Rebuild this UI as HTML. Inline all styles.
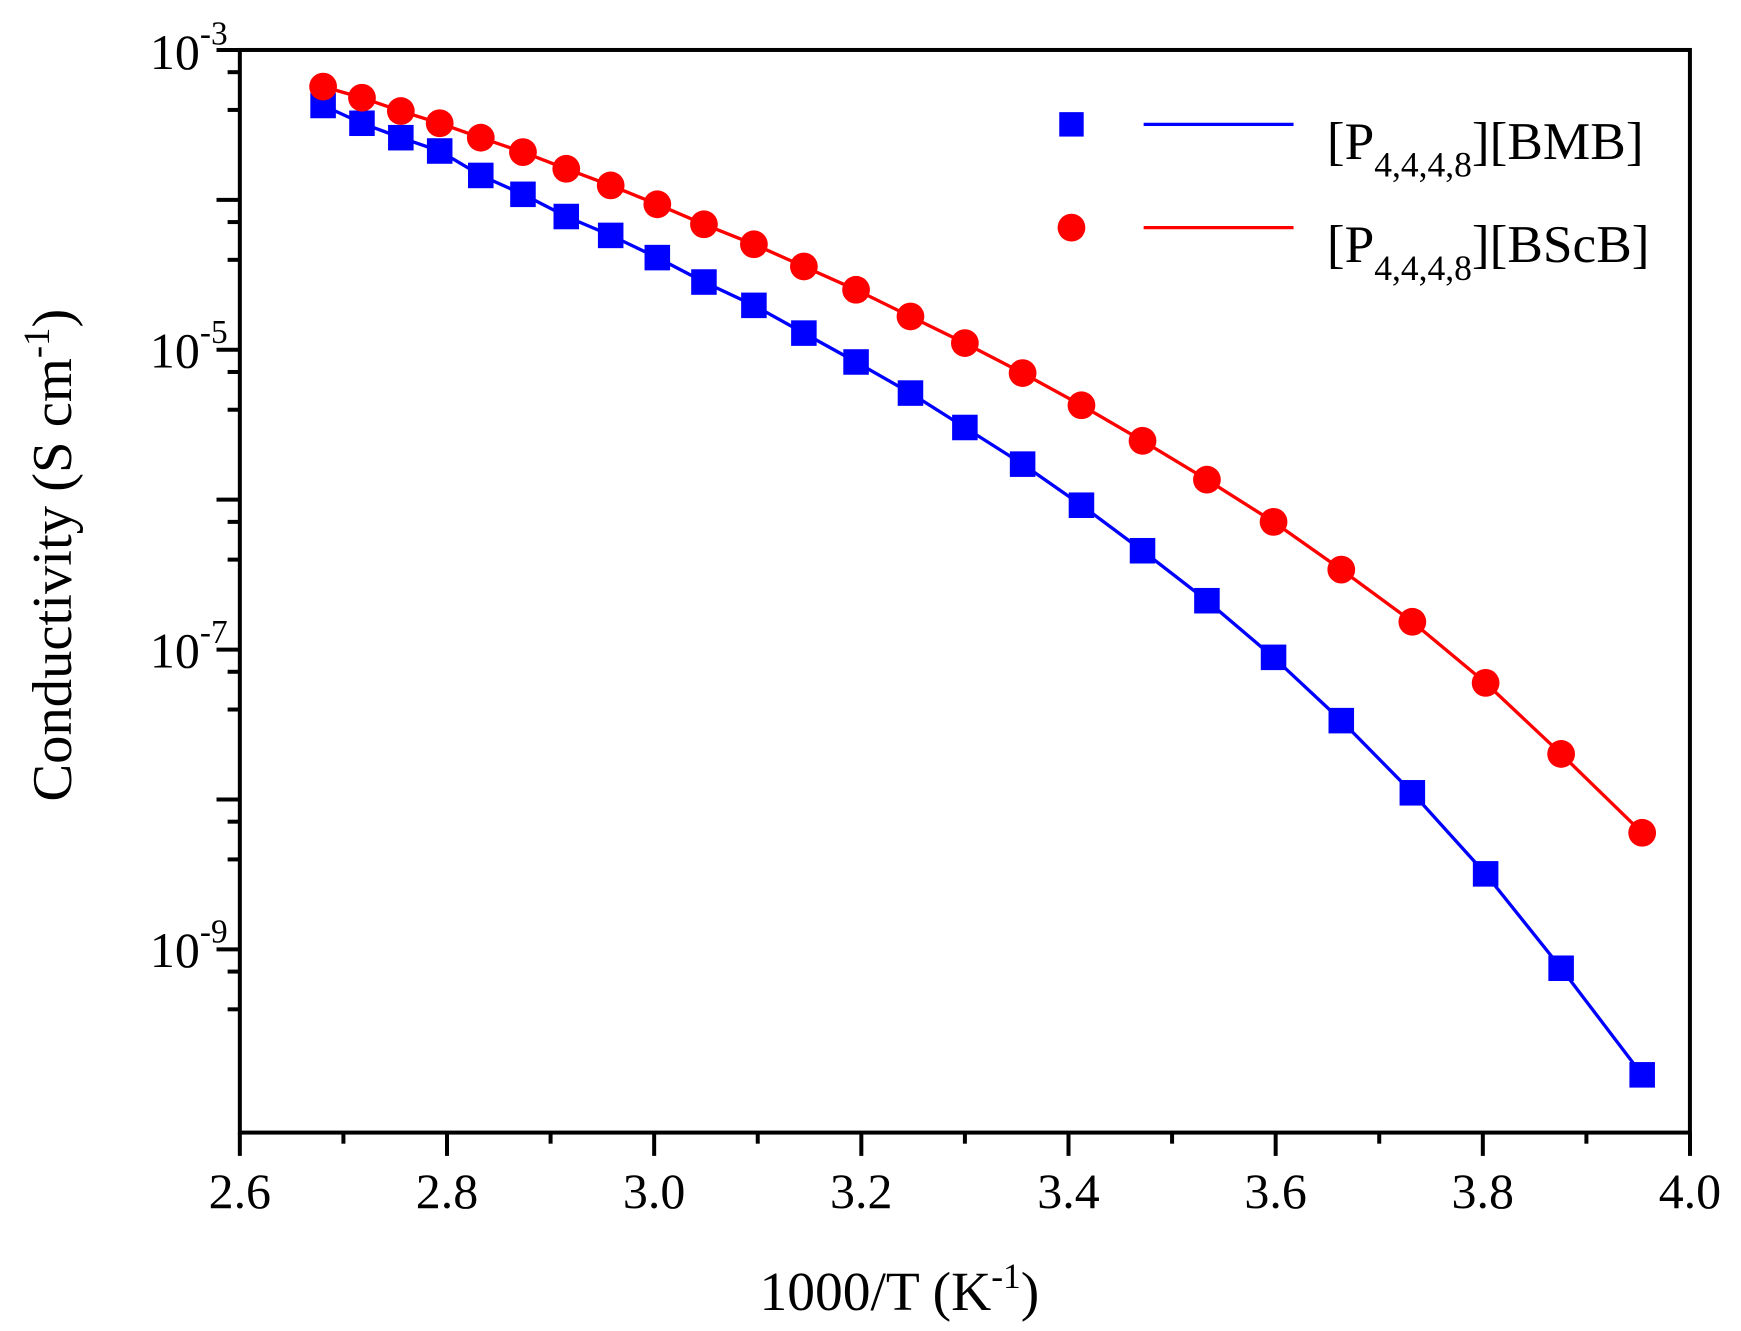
<!DOCTYPE html>
<html><head><meta charset="utf-8"><style>
html,body{margin:0;padding:0;background:#fff;}
svg{display:block;}
text{font-family:"Liberation Serif",serif;fill:#000;}
</style></head><body>
<svg width="1741" height="1331" viewBox="0 0 1568 1198.7" preserveAspectRatio="none" xmlns="http://www.w3.org/2000/svg">
<g id="ticks" stroke="#000" stroke-width="3.6"></g>
<rect x="216" y="45" width="1306" height="975" fill="none" stroke="#000" stroke-width="3.6"/>
<g font-size="45" text-anchor="middle">
<text x="216" y="1088">2.6</text><text x="402.6" y="1088">2.8</text><text x="589.1" y="1088">3.0</text><text x="775.7" y="1088">3.2</text><text x="962.3" y="1088">3.4</text><text x="1148.9" y="1088">3.6</text><text x="1335.4" y="1088">3.8</text><text x="1522" y="1088">4.0</text>
</g>
<g font-size="45" text-anchor="end">
<text x="205" y="62">10<tspan font-size="30" dy="-22">-3</tspan></text>
<text x="205" y="331">10<tspan font-size="30" dy="-22">-5</tspan></text>
<text x="205" y="601">10<tspan font-size="30" dy="-22">-7</tspan></text>
<text x="205" y="871">10<tspan font-size="30" dy="-22">-9</tspan></text>
</g>
<text x="810" y="1180" font-size="50" text-anchor="middle">1000/T (K<tspan font-size="32" dy="-20">-1</tspan><tspan dy="20">)</tspan></text>
<text transform="translate(64,500) rotate(-90)" font-size="51" text-anchor="middle">Conductivity (S cm<tspan font-size="33" dy="-20">-1</tspan><tspan dy="20">)</tspan></text>
<g id="series"></g>
<rect x="954" y="101" width="22" height="22" fill="#0000ff"/>
<line x1="1030" y1="112" x2="1165" y2="112" stroke="#0000ff" stroke-width="3"/>
<circle cx="965" cy="205" r="12.5" fill="#ff0000"/>
<line x1="1030" y1="205" x2="1165" y2="205" stroke="#ff0000" stroke-width="3"/>
<text x="1195" y="143" font-size="48">[P<tspan font-size="32" dy="16">4,4,4,8</tspan><tspan dy="-16">][BMB]</tspan></text>
<text x="1195" y="236" font-size="48">[P<tspan font-size="32" dy="16">4,4,4,8</tspan><tspan dy="-16">][BScB]</tspan></text>
</svg>
<script>
var ns="http://www.w3.org/2000/svg",t=document.getElementById("ticks"),s=document.getElementById("series");
function L(p,x1,y1,x2,y2){var l=document.createElementNS(ns,"line");l.setAttribute("x1",x1);l.setAttribute("y1",y1);l.setAttribute("x2",x2);l.setAttribute("y2",y2);p.appendChild(l);}
for(var i=0;i<=14;i++){var x=216+i*93.29;L(t,x,1020,x,i%2?1030:1041);}
for(var k=0;k<7;k++){var y=45+k*135;if(y<=1020)L(t,195,y,216,y);[20,54].forEach(function(o){if(y+o<1020)L(t,205,y+o,216,y+o);});}
var X=[291,326,361,396,433,471,510,550,592,634,679,724,771,820,869,921,974,1029,1087,1147,1208,1272,1338,1406,1479];
var B=[95,111,124,136,158,175,195,212,232,254,275,300,326,354,385,418,455,496,541,592,649,714,787,872,968];
var R=[78,88,100,111,124,137,152,167,184,202,220,240,261,285,309,336,365,397,432,470,513,560,615,679,750];
function poly(Y,c){var p=document.createElementNS(ns,"polyline");p.setAttribute("points",X.map(function(x,i){return x+","+Y[i]}).join(" "));p.setAttribute("fill","none");p.setAttribute("stroke",c);p.setAttribute("stroke-width","3");s.appendChild(p);}
poly(B,"#0000ff");poly(R,"#ff0000");
X.forEach(function(x,i){var r=document.createElementNS(ns,"rect");r.setAttribute("x",x-11.5);r.setAttribute("y",B[i]-11.5);r.setAttribute("width",23);r.setAttribute("height",23);r.setAttribute("fill","#0000ff");s.appendChild(r);});
X.forEach(function(x,i){var c=document.createElementNS(ns,"circle");c.setAttribute("cx",x);c.setAttribute("cy",R[i]);c.setAttribute("r",12.5);c.setAttribute("fill","#ff0000");s.appendChild(c);});
</script>
</body></html>
